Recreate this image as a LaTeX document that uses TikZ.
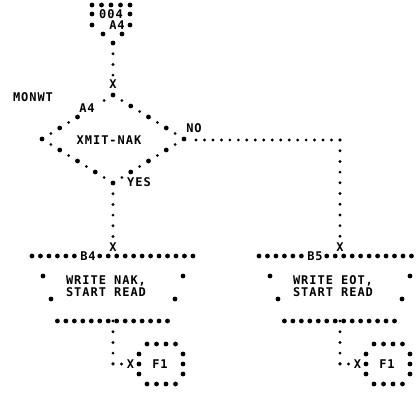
\documentclass[tikz,border=0pt]{standalone}
\usepackage{fontspec}
\usetikzlibrary{calc}
\newfontfamily\pf{DejaVu Sans Mono}[LetterSpace=8]
\tikzset{
  txt/.style={font=\pf\bfseries\fontsize{12}{9.5}\selectfont, inner sep=0pt, align=center},
  vconn/.style={line width=3.2pt, line cap=round, dash pattern=on 0pt off 10.7pt},
  hconn/.style={line width=3.2pt, line cap=round, dash pattern=on 0pt off 8.47pt}
}
\newcommand\dedge[3]{\foreach \k in {#3}{\ifodd\k\relax \fill ($(#1)!\k/8!(#2)$) circle (1.6pt);\else \fill ($(#1)!\k/8!(#2)$) circle (2.4pt);\fi}}
\newcommand\procpart[3]{%
  \foreach \i in {0,1,2,3,4,5,8,9,...,19} {\fill (32+8.47*\i,256) circle (2.4pt);}
  \node[txt] (#1lab) at (88,256) {#2};
  \node[txt] (#1) at (106,286) {#3\\START READ};
  \fill (43,276) circle (2.4pt); \fill (183,276) circle (2.4pt);
  \fill (51,299) circle (2.4pt); \fill (175,299) circle (2.4pt);
  \foreach \i in {3,...,16} {\fill (32+8.47*\i,321) circle (2.4pt);}
  \node[txt] (#1x) at (113,247) {X};
  \foreach \xx in {147,156.5,166,175.5} {\fill (\xx,344) circle (2.4pt); \fill (\xx,384) circle (2.4pt);}
  \foreach \yy in {354,364,374} {\fill (139,\yy) circle (2.4pt); \fill (183,\yy) circle (2.4pt);}
  \node[txt] (#1f) at (160,364) {F1};
  \node[txt] (#1fx) at (130.5,364) {X};
  \coordinate (#1bot) at (113,321);
  \coordinate (#1corner) at (113,364);
  \coordinate (#1end) at (122,364);
  \draw[vconn] (#1bot) -- (#1corner);
  \draw[hconn] (#1corner) -- (#1end);
}
\begin{document}
\begin{tikzpicture}[x=1pt,y=-1pt]
\useasboundingbox (0,0) rectangle (416,402);
\clip (0,0) rectangle (416,402);
% top off-page connector
\foreach \xx in {92,101.5,111,120.5,130} {\fill (\xx,5) circle (2.4pt);}
\fill (92,14) circle (2.4pt); \fill (130,14) circle (2.4pt);
\node[txt] (c004) at (111,14) {004};
\fill (92,25) circle (2.4pt); \fill (130,25) circle (2.4pt);
\node[txt] (ca4) at (117,25.5) {A4};
\fill (103,34) circle (2.4pt); \fill (122,34) circle (2.4pt);
\fill (113,43) circle (2.4pt);
\coordinate (ctip) at (113,43);
\coordinate (xa) at (113,76);
\draw[vconn] (ctip) -- (xa);
\node[txt] (xdec) at (113,84) {X};
% decision
\coordinate (T) at (113,95);
\coordinate (L) at (42,139);
\coordinate (R) at (184,139);
\coordinate (B) at (113,183);
\dedge{T}{L}{0,1,4,5,6,7,8}
\dedge{T}{R}{1,2,3,4,5,6,7,8}
\dedge{B}{L}{0,1,2,3,4,5,6,7}
\dedge{B}{R}{1,2,3,4,5,6,7}
\node[txt] (dec) at (109,140) {XMIT-NAK};
\node[txt] (monwt) at (33,97) {MONWT};
\node[txt] (da4) at (87,108) {A4};
\node[txt] (no) at (194,128) {NO};
\node[txt] (yes) at (139,182) {YES};
% left process
\procpart{bfour}{B4}{WRITE NAK,}
\coordinate (bfin) at (113,240);
\draw[vconn] (B) -- (bfin);
% right process
\begin{scope}[xshift=227pt]
\procpart{bfive}{B5}{WRITE EOT,}
\end{scope}
\coordinate (nocorner) at (340,140);
\coordinate (nostart) at (191,140);
\coordinate (nofin) at (340,240);
\draw[hconn] (nocorner) -- (nostart);
\draw[vconn] (nocorner) -- (nofin);
\end{tikzpicture}
\end{document}
